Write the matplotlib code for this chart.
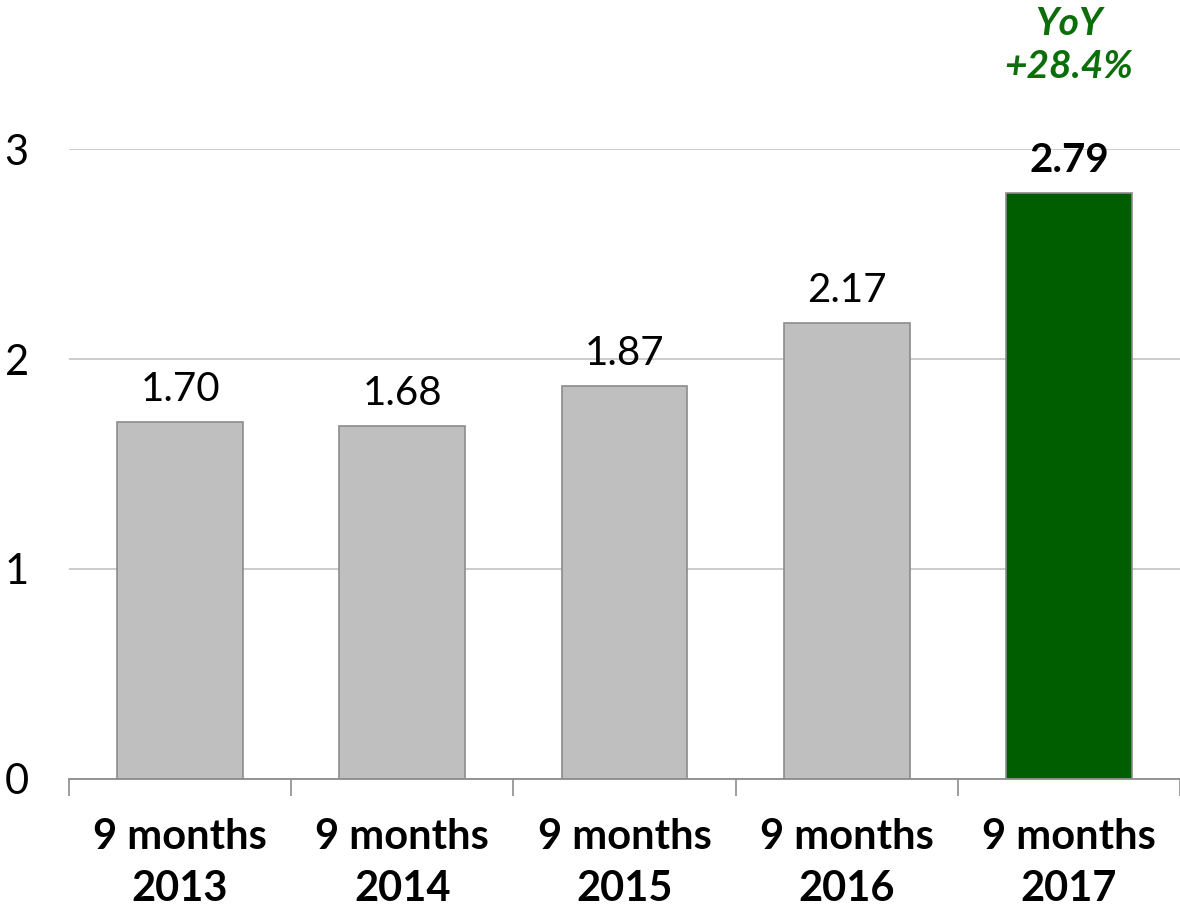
import matplotlib
matplotlib.use("Agg")
import matplotlib.pyplot as plt

categories = ["9 months\n2013", "9 months\n2014", "9 months\n2015", "9 months\n2016", "9 months\n2017"]
values = [1.70, 1.68, 1.87, 2.17, 2.79]
value_labels = ["1.70", "1.68", "1.87", "2.17", "2.79"]
yticks = [0, 1, 2, 3]
yoy_text = "YoY\n+28.4%"

plt.rcParams['font.family'] = ['Lato', 'DejaVu Sans']

fig = plt.figure(figsize=(11.8, 9.08), dpi=100)
ax = fig.add_axes([69/1180, 129/908, 1 - 69/1180, 630/908])

x = list(range(len(values)))
colors = ["#BFBFBF"] * 4 + ["#005E00"]
edges = ["#8C8C8C"] * 5
ax.bar(x, values, width=0.567, color=colors, edgecolor=edges, linewidth=1.2, zorder=3)

ax.set_xlim(-0.5, len(values) - 0.5)
ax.set_ylim(0, 3)
ax.set_yticks(yticks)
ax.set_yticklabels([str(t) for t in yticks], fontsize=30, fontweight='normal', color='black')
ax.tick_params(axis='y', length=0, pad=29)
ax.grid(axis='y', color='#C8C8C8', linewidth=1.3, zorder=0)
ax.set_axisbelow(True)

ax.set_xticks(x)
ax.set_xticklabels(categories, fontsize=30, fontweight='bold', linespacing=1.45)
ax.tick_params(axis='x', length=0, pad=28)
ax.set_xticks([i - 0.5 for i in range(len(values) + 1)], minor=True)
ax.tick_params(axis='x', which='minor', length=12, width=1.2, color='#8C8C8C', direction='out')

for s in ['top', 'right', 'left']:
    ax.spines[s].set_visible(False)
ax.spines['bottom'].set_color('#8C8C8C')
ax.spines['bottom'].set_linewidth(1.3)
ax.spines['bottom'].set_zorder(4)

for i, (v, lab) in enumerate(zip(values, value_labels)):
    last = i == len(values) - 1
    ax.annotate(lab, (i, v), xytext=(0, 10), textcoords='offset points',
                ha='center', va='bottom', fontsize=29,
                fontweight='bold' if last else 'normal', color='black', clip_on=False)

ax.text(4, 1 + (149 - 45) / 630, yoy_text, transform=ax.get_xaxis_transform(),
        ha='center', va='center', fontsize=28, fontweight='bold', fontstyle='italic',
        color='#0B6E0B', linespacing=1.3)

fig.savefig("out.png", dpi=100)
